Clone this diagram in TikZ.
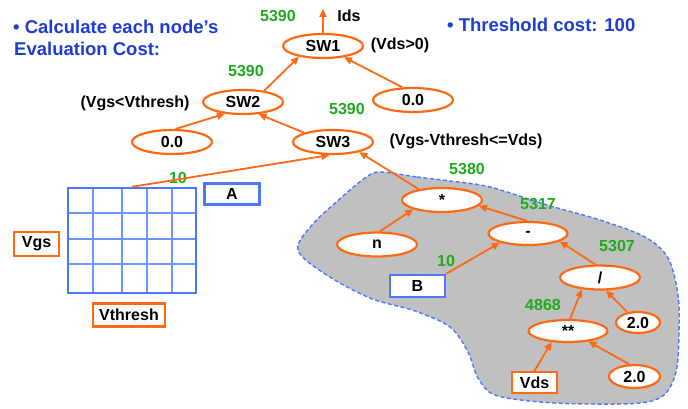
\documentclass[tikz,border=0pt]{standalone}
\usepackage{fontspec}
\setmainfont{Liberation Sans}
\usetikzlibrary{shapes.geometric,arrows.meta}
\definecolor{orn}{RGB}{255,105,20}
\definecolor{grn}{RGB}{30,170,30}
\definecolor{ttl}{RGB}{30,60,210}
\definecolor{bxb}{RGB}{75,120,255}
\definecolor{gridin}{RGB}{110,150,255}
\definecolor{blobfill}{RGB}{192,192,192}
\begin{document}
\begin{tikzpicture}[x=1pt,y=-1pt,
  font=\bfseries\fontsize{16}{18}\selectfont,
  ell/.style={ellipse, draw=orn, line width=2.2pt, fill=white, inner sep=0pt, minimum width=80pt, minimum height=24pt},
  obox/.style={rectangle, draw=orn, line width=2.2pt, fill=white, inner sep=0pt},
  bbox/.style={rectangle, draw=bxb, line width=2.2pt, fill=white, inner sep=0pt},
  edge/.style={draw=orn, line width=1.8pt, -{Triangle[length=8pt,width=7pt]}},
  num/.style={text=grn, inner sep=0pt},
  lbl/.style={inner sep=0pt},
  ttltext/.style={text=ttl, font=\bfseries\fontsize{18.5}{22}\selectfont, inner sep=0pt, anchor=west}]
\useasboundingbox (0,0) rectangle (688,409);

% gray region
\path[fill=blobfill, draw=bxb, dash pattern=on 4pt off 2.5pt, line width=1.4pt]
  plot[smooth cycle, tension=0.55] coordinates {
  (380,172) (417,177) (450,181) (490,187) (547,205) (600,220) (645,237)
  (668,258) (678,295) (679,335) (676,372) (664,395) (640,403) (590,404)
  (540,402) (495,395) (478,378) (468,352) (450,327) (415,311) (370,298)
  (325,274) (298,250) (312,225) (342,197) (365,178)};

% titles
\node[ttltext] (t1) at (13,26.5) {• Calculate each node’s};
\node[ttltext] (t2) at (14,48.5) {Evaluation Cost:};
\node[ttltext] (t3) at (447,24.5) {• Threshold cost: 100};

% tree nodes
\node[ell] (sw1) at (323,46) {SW1};
\node[ell] (sw2) at (243,102) {SW2};
\node[ell] (zr) at (413,100) {0.0};
\node[ell] (zl) at (172,142) {0.0};
\node[ell] (sw3) at (333,142) {SW3};
\node[ell] (star) at (442,200) {*};
\node[ell] (nn) at (377,244.5) {n};
\node[ell, minimum width=79pt, minimum height=23pt] (minus) at (528,233.5) {-};
\node[ell] (div) at (600,277.5) {/};
\node[ell, minimum width=79pt, minimum height=22pt] (pow) at (568,331) {**};
\node[ell, minimum width=44pt, minimum height=21pt] (tu) at (638,322.5) {2.0};
\node[ell, minimum width=51pt, minimum height=23pt] (tl) at (634.5,376.5) {2.0};

% boxes
\node[obox, minimum width=45pt, minimum height=21pt] (vds) at (534.5,382.5) {Vds};
\node[bbox, minimum width=55pt, minimum height=22pt] (bb) at (417.5,286) {B};
\node[bbox, minimum width=55pt, minimum height=21pt] (aa) at (232,194) {A};
\node[obox, minimum width=45pt, minimum height=24pt] (vgs) at (36.5,244) {Vgs};
\node[obox, minimum width=72pt, minimum height=23pt] (vth) at (129,315) {Vthresh};

% grid
\foreach \x in {93,122,147,172} \draw[gridin, line width=1.5pt] (\x,188) -- (\x,293);
\foreach \y in {213,239,264} \draw[gridin, line width=1.5pt] (68,\y) -- (196,\y);
\node[draw=bxb, line width=2.4pt, minimum width=128pt, minimum height=105pt, inner sep=0pt] (grid) at (132,240.5) {};

% text labels
\node[lbl] (ids) at (349,16) {Ids};
\node[lbl] (c1) at (400,45) {(Vds>0)};
\node[lbl] (c2) at (135,103) {(Vgs<Vthresh)};
\node[lbl] (c3) at (466,141) {(Vgs-Vthresh<=Vds)};

% costs
\node[num] (n1) at (278,16) {5390};
\node[num] (n2) at (246,71) {5390};
\node[num] (n3) at (347,109) {5390};
\node[num] (n4) at (178,178) {10};
\node[num] (n5) at (467,169) {5380};
\node[num] (n6) at (538,204) {5317};
\node[num] (n7) at (617,246) {5307};
\node[num] (n8) at (446,261) {10};
\node[num] (n9) at (543,305) {4868};

% connectors
\coordinate (idsend) at (323,9);
\draw[edge] (sw1.north) -- (idsend);
\draw[edge] (sw2.28) -- (sw1.204);
\draw[edge] (zr.130) -- (sw1.332);
\draw[edge] (zl.75) -- (sw2.213);
\draw[edge] (sw3.162) -- (sw2.322);
\draw[edge] (grid.north) -- (sw3.255);
\draw[edge] (star.155) -- (sw3.339);
\draw[edge] (nn.78) -- (star.198);
\draw[edge] (minus.94) -- (star.351);
\draw[edge] (bb.north east) -- (minus.198);
\draw[edge] (div.109) -- (minus.346);
\draw[edge] (pow.80) -- (div.213);
\draw[edge] (tu.136) -- (div.295);
\draw[edge] (vds.north) -- (pow.214);
\draw[edge] (tl.114) -- (pow.333);
\end{tikzpicture}
\end{document}
